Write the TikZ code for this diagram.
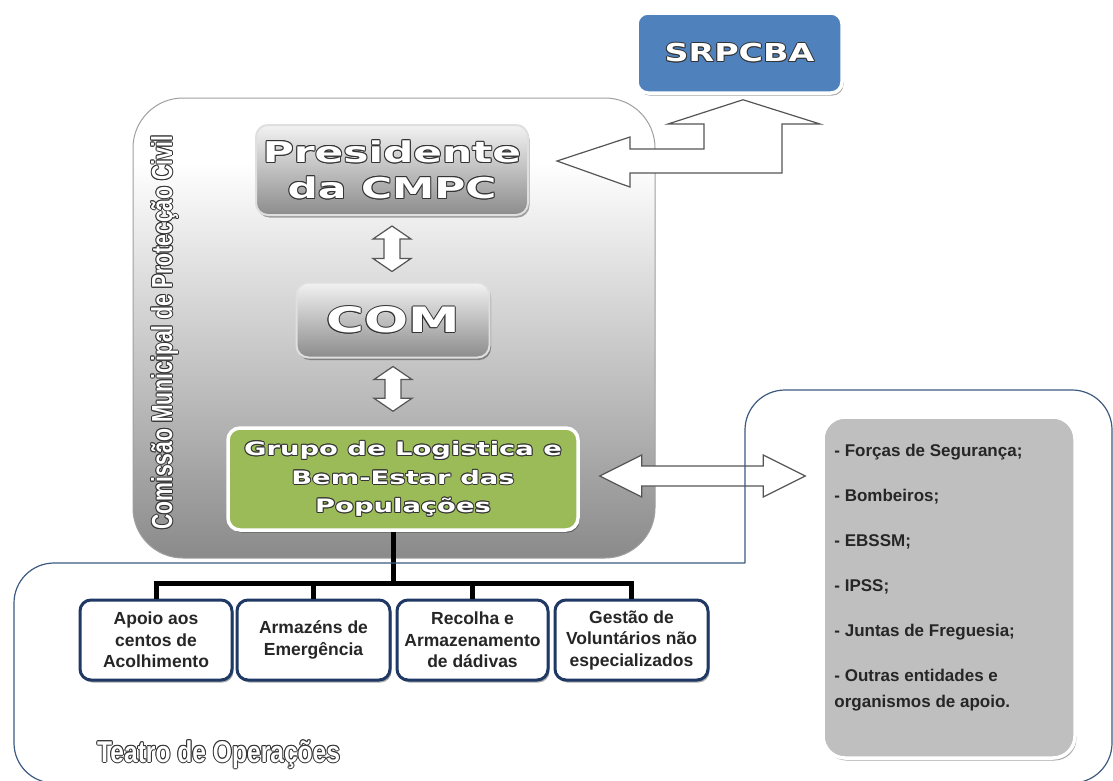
\documentclass[tikz,border=0pt]{standalone}
\usepackage{fontspec}
\setmainfont{Liberation Sans}
\newfontfamily\hfont{DejaVu Sans}
\usepackage{graphicx}
\usetikzlibrary{calc,shadows}

\definecolor{srblue}{HTML}{4F81BD}
\definecolor{grgreen}{HTML}{9BBB59}
\definecolor{navy}{HTML}{1F3864}
\definecolor{regline}{HTML}{3D5A80}
\definecolor{arrline}{HTML}{555555}
\definecolor{olc}{HTML}{333333}
\definecolor{listgray}{HTML}{BFBFBF}
\definecolor{txtdark}{HTML}{262626}
\definecolor{cA}{HTML}{8A8A8A}
\definecolor{cB}{HTML}{B4B4B4}
\definecolor{cC}{HTML}{E4E4E4}
\definecolor{bxtop}{HTML}{F2F2F2}
\definecolor{bxbot}{HTML}{8C8C8C}

\pgfdeclareverticalshading{contshade}{100bp}{color(0bp)=(cA); color(25bp)=(cA); color(40bp)=(cB); color(58bp)=(cC); color(68bp)=(white); color(100bp)=(white)}

\newcommand\olcopy[3]{\rlap{\raisebox{#2}{\hspace*{#1}#3}}}
\newcommand\outl[1]{\leavevmode{\color{olc}\olcopy{1pt}{0pt}{#1}\olcopy{-1pt}{0pt}{#1}\olcopy{0pt}{1pt}{#1}\olcopy{0pt}{-1pt}{#1}\olcopy{0.7pt}{0.7pt}{#1}\olcopy{-0.7pt}{0.7pt}{#1}\olcopy{0.7pt}{-0.7pt}{#1}\olcopy{-0.7pt}{-0.7pt}{#1}}\textcolor{white}{#1}}
\newcommand\htext[3]{\outl{\scalebox{#1}[1]{\hfont\bfseries\fontsize{#2}{#2}\selectfont #3}}}
\newcommand\ctext[3]{\outl{\scalebox{#1}[1]{\bfseries\fontsize{#2}{#2}\selectfont #3}}}

\newcommand\vdarrow[2]{\draw[blockarrow] let \p1=(#1), \p2=(#2) in (\x1,\y1) -- (\x1+19pt,\y1-13pt) -- (\x1+8pt,\y1-13pt) -- (\x1+8pt,\y2+13pt) -- (\x1+19pt,\y2+13pt) -- (\x1,\y2) -- (\x1-19pt,\y2+13pt) -- (\x1-8pt,\y2+13pt) -- (\x1-8pt,\y1-13pt) -- (\x1-19pt,\y1-13pt) -- cycle;}
\newcommand\hdarrow[2]{\draw[blockarrow] let \p1=(#1), \p2=(#2) in (\x1,\y1) -- (\x1+42pt,\y1+21pt) -- (\x1+42pt,\y1+10pt) -- (\x2-42pt,\y1+10pt) -- (\x2-42pt,\y1+21pt) -- (\x2,\y1) -- (\x2-42pt,\y1-21pt) -- (\x2-42pt,\y1-10pt) -- (\x1+42pt,\y1-10pt) -- (\x1+42pt,\y1-21pt) -- cycle;}

\tikzset{
 shd/.style={drop shadow={shadow xshift=1.5pt,shadow yshift=-2.5pt,opacity=0.35,fill=black}},
 srbox/.style={rounded corners=11pt, fill=srblue, draw=white, line width=3.5pt, shd},
 presbox/.style={rounded corners=12pt, top color=bxtop, bottom color=bxbot, draw=gray!25, line width=2pt, shd},
 grnbox/.style={rounded corners=12pt, fill=grgreen, draw=white, line width=3.5pt, shd},
 contbox/.style={rounded corners=50pt, shade, shading=contshade, draw=gray!75, line width=1pt},
 subbox/.style={rounded corners=11pt, fill=white, draw=navy, line width=3pt, align=center, text=txtdark, font=\fontsize{17.5}{21.5}\selectfont\bfseries, shd},
 listbox/.style={rounded corners=22pt, fill=listgray, draw=white, line width=3.5pt, shd},
 blockarrow/.style={fill=white, draw=arrline, line width=1.2pt, line join=miter},
 treeline/.style={line width=5pt, draw=black},
 regionline/.style={draw=regline, line width=1.2pt},
}

\begin{document}
\begin{tikzpicture}[x=1pt,y=-1pt]
\useasboundingbox (0,0) rectangle (1113,780);
\fill[white] (0,0) rectangle (1113,780);

% container
\node[contbox, minimum width=522pt, minimum height=460pt] (cont) at (394,328) {};
\node[rotate=90, anchor=base west, inner sep=0pt] (cmpc) at (172,530) {\ctext{0.73}{29}{Comissão Municipal de Protecção Civil}};

% boxes
\node[presbox, minimum width=272pt, minimum height=90pt, align=center, font=\fontsize{28.6}{36}\selectfont] (pres) at (392,170) {\htext{1.48}{28.6}{Presidente}\\\htext{1.48}{28.6}{da CMPC}};
\node[presbox, minimum width=193pt, minimum height=75pt] (com) at (393,320) {\htext{1.48}{35}{COM}};
\node[grnbox, minimum width=350pt, minimum height=102pt, align=center, font=\fontsize{18.5}{28.5}\selectfont] (grn) at (403,479) {\htext{1.48}{18.5}{Grupo de Logistica e}\\\htext{1.48}{18.5}{Bem-Estar das}\\\htext{1.48}{18.5}{Populações}};
\node[srbox, minimum width=205pt, minimum height=80pt] (sr) at (739.5,53) {\htext{1.35}{24.7}{SRPCBA}};

% list
\node[listbox, minimum width=252pt, minimum height=341pt] (list) at (949,587.5) {};
\node[anchor=north west, inner sep=0pt, align=left, text=txtdark, font=\fontsize{17}{26}\selectfont\bfseries] (listtxt) at ($(list.north west)+(13,29)$) {- Forças de Segurança;\\[19pt]- Bombeiros;\\[19pt]- EBSSM;\\[19pt]- IPSS;\\[19pt]- Juntas de Freguesia;\\[19pt]- Outras entidades e\\organismos de apoio.};

% sub boxes
\node[subbox, minimum width=152pt, minimum height=80pt] (b1) at (156,640) {Apoio aos\\centos de\\Acolhimento};
\node[subbox, minimum width=153pt, minimum height=80pt] (b2) at (313.5,640) {Armazéns de\\Emergência};
\node[subbox, minimum width=151pt, minimum height=80pt] (b3) at (472.5,640) {Recolha e\\Armazenamento\\de dádivas};
\node[subbox, minimum width=153pt, minimum height=80pt] (b4) at (631.5,640) {Gestão de\\Voluntários não\\especializados};

% tree
\coordinate (trunk) at (393,583);
\draw[treeline] (grn.south -| trunk) -- (trunk);
\draw[treeline] (b1.north) -- (b1.north |- trunk) -- (b4.north |- trunk) -- (b4.north);
\draw[treeline] (b2.north) -- (b2.north |- trunk);
\draw[treeline] (b3.north) -- (b3.north |- trunk);

% block arrows
\vdarrow{$(pres.south)+(0,10)$}{$(com.north)+(0,-10)$}
\vdarrow{$(com.south)+(0,8)$}{$(com.south |- grn.north)+(0,-15)$}
\hdarrow{$(grn.east)+(20,-3)$}{$(grn.east -| list.west)+(-16,-3)$}
\draw[blockarrow] ($(sr.south)+(3.5,5)$) -- (820,124) -- (782,124) -- (782,173) -- (630,173) -- (630,187) -- ($(pres.east)+(28,-9)$) -- (630,137) -- (630,149) -- (704,149) -- (704,124) -- (668,124) -- cycle;

% region outline
\begin{scope}
\clip (0,0) rectangle (1113,780);
\draw[regionline, rounded corners=40pt] (745,563) -- (14,563) -- (14,783) -- (1112,783) -- (1112,390) -- (745,390) -- (745,563);
\end{scope}

\node[anchor=base west, inner sep=0pt] (teatro) at (97,762) {\ctext{0.82}{30}{Teatro de Operações}};
\end{tikzpicture}
\end{document}
